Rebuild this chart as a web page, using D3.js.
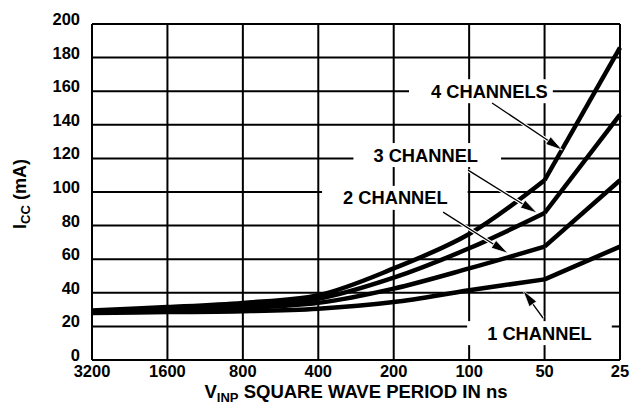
<!DOCTYPE html>
<html>
<head>
<meta charset="utf-8">
<script src="https://d3js.org/d3.v7.min.js"></script>
<style>
  body { margin: 0; background: #fff; }
  text { font-family: "Liberation Sans", Arial, Helvetica, sans-serif; font-weight: bold; fill: #000; }
</style>
</head>
<body>
<svg id="mainsvg"></svg>
<script>
// data (ICC in mA vs input period in ns)
var periods = [3200, 1600, 800, 400, 200, 100, 50, 25];
var yTicks = [0, 20, 40, 60, 80, 100, 120, 140, 160, 180, 200];
var ch1 = [28, 28.5, 29, 30.5, 34.5, 41.5, 48, 67.5];
var ch2 = [28.5, 29.5, 31, 34, 42.5, 54.5, 67.5, 107];
var ch3 = [29, 30.5, 32.5, 36.5, 49, 66.5, 87.5, 146];
var ch4 = [29.5, 31.5, 34, 38.5, 54.5, 75, 107, 186];

// callouts: label text placed at (period, mA), arrow from tail to tip in the same units
var notes = [
  { text: "4 CHANNELS", at: [83, 160], padL: 22, padR: 5, tail: [81, 153], tip: [42.5, 125] },
  { text: "3 CHANNEL", at: [149, 122], padL: 20, padR: 23, tail: [101, 113], tip: [53.5, 87.5] },
  { text: "2 CHANNEL", at: [197, 96.5], padL: 21, padR: 20, tail: [127, 88], tip: [70, 63.5] },
  { text: "1 CHANNEL", at: [52.4, 16], padL: 20, padR: 20, tail: [50.7, 25], tip: [61, 41.5] }
];

var width = 631, height = 410;
var margin = { top: 24, right: 11, bottom: 50, left: 92 };

var svg = d3.select("#mainsvg")
  .attr("width", width)
  .attr("height", height)
  .attr("viewBox", [0, 0, width, height]);

var x = d3.scaleLog().base(2)
  .domain([3200, 25])
  .range([margin.left, width - margin.right]);
var y = d3.scaleLinear()
  .domain([0, 200])
  .range([height - margin.bottom, margin.top]);

// grid
var grid = svg.append("g").attr("stroke", "#000").attr("stroke-width", 2);
grid.selectAll("line.h")
  .data(yTicks)
  .join("line")
  .attr("class", "h")
  .attr("x1", x(3200)).attr("x2", x(25))
  .attr("y1", d => y(d)).attr("y2", d => y(d));
grid.selectAll("line.v")
  .data(periods)
  .join("line")
  .attr("class", "v")
  .attr("y1", y(0)).attr("y2", y(200))
  .attr("x1", d => x(d)).attr("x2", d => x(d));

// tick labels
svg.append("g")
  .selectAll("text")
  .data(yTicks)
  .join("text")
  .attr("x", margin.left - 12)
  .attr("y", d => y(d) - 5)
  .attr("dy", "0.36em")
  .attr("text-anchor", "end")
  .style("font-size", "16.5px")
  .text(d => d);

svg.append("g")
  .selectAll("text")
  .data(periods)
  .join("text")
  .attr("x", d => x(d))
  .attr("y", y(0) + 17)
  .attr("text-anchor", "middle")
  .style("font-size", "16.5px")
  .text(d => d);

// white boxes behind the callout labels
var notesG = svg.append("g");
var labelText = notesG.selectAll("text")
  .data(notes)
  .join("text")
  .attr("x", d => x(d.at[0]))
  .attr("y", d => y(d.at[1]))
  .attr("dy", "0.36em")
  .attr("text-anchor", "middle")
  .style("font-size", "18.3px")
  .text(d => d.text);

labelText.each(function(d) {
  var bb = this.getBBox();
  notesG.insert("rect", "text")
    .attr("x", bb.x - d.padL)
    .attr("y", y(d.at[1]) - 12)
    .attr("width", bb.width + d.padL + d.padR)
    .attr("height", 24)
    .attr("fill", "#fff");
});

// curves: smooth up to 50 ns, straight on to 25 ns
var series = [ch1, ch2, ch3, ch4];
var smooth = d3.line()
  .x(d => x(d[0]))
  .y(d => y(d[1]))
  .curve(d3.curveCatmullRom.alpha(0.5));
var straight = d3.line()
  .x(d => x(d[0]))
  .y(d => y(d[1]));

var curves = svg.append("g")
  .attr("fill", "none")
  .attr("stroke", "#000")
  .attr("stroke-width", 4.5)
  .attr("stroke-linejoin", "round");

series.forEach(function(s) {
  var pts = periods.map((p, i) => [p, s[i]]);
  curves.append("path").attr("d", smooth(pts.slice(0, 7)));
  curves.append("path").attr("d", straight(pts.slice(6)));
});

// arrows
var arrows = svg.append("g");
notes.forEach(function(d) {
  var x0 = x(d.tail[0]), y0 = y(d.tail[1]);
  var x1 = x(d.tip[0]), y1 = y(d.tip[1]);
  var dx = x1 - x0, dy = y1 - y0, len = Math.sqrt(dx * dx + dy * dy);
  var ux = dx / len, uy = dy / len;
  var hl = 17, hw = 4.5;
  var bx = x1 - ux * hl, by = y1 - uy * hl;
  // white halo so the arrow cuts through the curves
  arrows.append("line")
    .attr("x1", x0).attr("y1", y0).attr("x2", bx).attr("y2", by)
    .attr("stroke", "#fff").attr("stroke-width", 3.5);
  arrows.append("line")
    .attr("x1", x0).attr("y1", y0).attr("x2", bx).attr("y2", by)
    .attr("stroke", "#000").attr("stroke-width", 1.3);
  arrows.append("path")
    .attr("d", `M${x1},${y1}L${bx - uy * hw},${by + ux * hw}L${bx + uy * hw},${by - ux * hw}Z`)
    .attr("fill", "#000")
    .attr("stroke", "#fff")
    .attr("stroke-width", 0.8);
});

// axis titles
var xt = svg.append("text")
  .attr("x", (x(3200) + x(25)) / 2)
  .attr("y", height - 12)
  .attr("text-anchor", "middle")
  .style("font-size", "18.5px");
xt.append("tspan").text("V");
xt.append("tspan").attr("dy", 4).style("font-size", "13px").text("INP");
xt.append("tspan").attr("dy", -4).text(" SQUARE WAVE PERIOD IN ns");

var yt = svg.append("text")
  .attr("transform", `translate(26,${(y(0) + y(200)) / 2 + 2}) rotate(-90)`)
  .attr("text-anchor", "middle")
  .style("font-size", "18px");
yt.append("tspan").text("I");
yt.append("tspan").attr("dy", 4).style("font-size", "13px").text("CC");
yt.append("tspan").attr("dy", -4).text(" (mA)");
</script>
</body>
</html>
